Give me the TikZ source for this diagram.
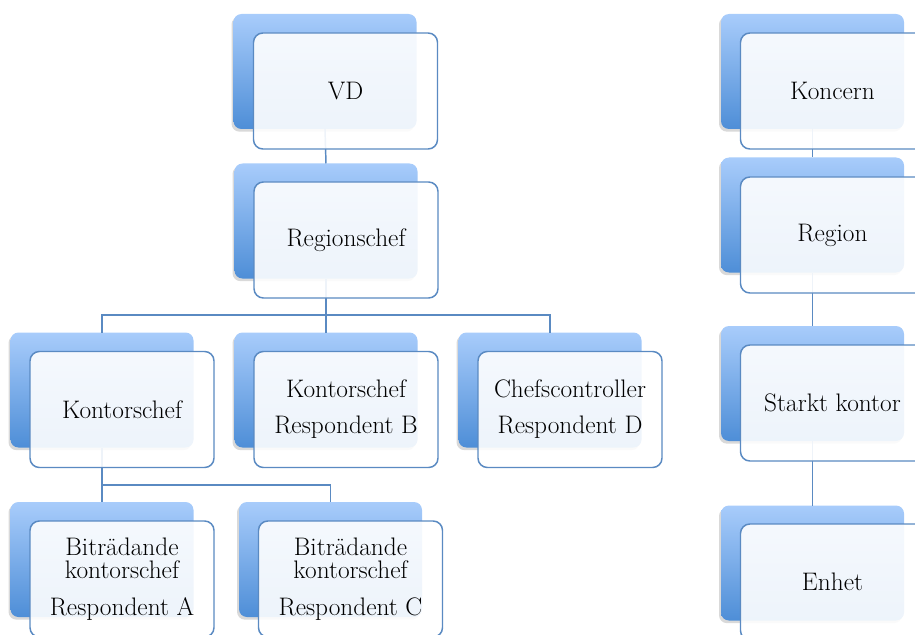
\documentclass[tikz,border=0pt]{standalone}
\usepackage{tikz}
\usetikzlibrary{positioning, shadows}

\definecolor{boxtop}{RGB}{168,204,251}
\definecolor{boxbot}{RGB}{78,142,215}
\definecolor{edgeblue}{RGB}{90,138,194}

\begin{document}
\begin{tikzpicture}[
    x=0.75pt, y=-0.75pt,
    back/.style={rounded corners=6pt, minimum width=137.25pt, minimum height=86.25pt,
        inner sep=0pt, outer sep=0pt, top color=boxtop, bottom color=boxbot, draw=none,
        drop shadow={shadow xshift=-1.5pt, shadow yshift=-2pt, opacity=0.3}},
    front/.style={draw=edgeblue, line width=1.1pt, rounded corners=7pt,
        minimum width=138pt, minimum height=87pt, inner sep=0pt, outer sep=0pt,
        fill=white, fill opacity=0.9, text opacity=1, align=center,
        font=\fontsize{19}{17.5}\selectfont},
    conn/.style={draw=edgeblue, line width=1.1pt}
]
    \useasboundingbox (0,0) rectangle (915,635);

    % junctions of the branches
    \coordinate (bus1) at (326, 315);
    \coordinate (bus2) at (102, 485);

    % back boxes, left tree
    \node [back] (vdB) at (325, 71.5) {};
    \node [back] (rcB) at (326, 221) {};
    \node [back] (k1B) at (102, 390) {};
    \node [back] (k2B) at (326, 390) {};
    \node [back] (k3B) at (550, 390) {};
    \node [back] (b1B) at (102, 559.5) {};
    \node [back] (b2B) at (330.5, 559.5) {};

    % back boxes, right column
    \node [back] (koB) at (812.5, 71.5) {};
    \node [back] (reB) at (812.5, 215) {};
    \node [back] (skB) at (812.5, 383.5) {};
    \node [back] (enB) at (812.5, 563) {};

    % connectors
    \draw [conn] (vdB.south) -- (rcB.north);
    \draw [conn] (rcB.south) -- (bus1) -- (k2B.north);
    \draw [conn] (bus1) -| (k1B.north);
    \draw [conn] (bus1) -| (k3B.north);
    \draw [conn] (k1B.south) -- (bus2) -- (b1B.north);
    \draw [conn] (bus2) -| (b2B.north);
    \draw [conn] (koB.south) -- (reB.north);
    \draw [conn] (reB.south) -- (skB.north);
    \draw [conn] (skB.south) -- (enB.north);

    % front boxes with the texts
    \node [front] (vd) at (345.5, 91) {VD};
    \node [front] (rc) at (346, 240) {Regionschef};
    \node [front] (k1) at (122, 409.5) {Kontorschef};
    \node [front] (k2) at (346, 409.5) {Kontorschef\\[9.5pt]Respondent B};
    \node [front] (k3) at (570, 409.5) {Chefscontroller\\[9.5pt]Respondent D};
    \node [front] (b1) at (122, 579) {Biträdande\\kontorschef\\[10pt]Respondent A};
    \node [front] (b2) at (350.5, 579) {Biträdande\\kontorschef\\[10pt]Respondent C};

    \node [front] (ko) at (832.5, 91) {Koncern};
    \node [front] (re) at (832.5, 235) {Region};
    \node [front] (sk) at (832.5, 403) {Starkt kontor};
    \node [front] (en) at (832.5, 582) {Enhet};

\end{tikzpicture}
\end{document}
